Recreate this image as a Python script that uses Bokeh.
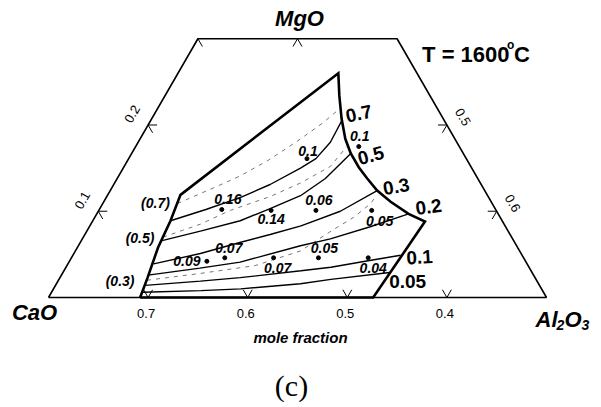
import math
from bokeh.plotting import figure
from bokeh.models import Range1d
from bokeh.core.properties import value
from bokeh.embed import file_html
from bokeh.resources import INLINE

# ---------------------------------------------------------------------------
# Data: compositions are (CaO, MgO) mole fractions; Al2O3 = 1 - CaO - MgO
# ---------------------------------------------------------------------------
# Triangle frame, cut at MgO = 0.3
frame_cao = [0.8, 0.3, 0.3, 0.5, 0.8]
frame_mgo = [0.0, 0.0, 0.3, 0.3, 0.0]

# Tick values
cao_ticks = [0.7, 0.6, 0.5, 0.4]      # bottom edge (MgO = 0)
mgo_ticks = [0.1, 0.2]                # left edge (Al2O3 = 0.2)
al2o3_ticks = [0.6, 0.5]              # right edge (CaO = 0.3)
top_cao_ticks = [0.5, 0.4]            # top edge (MgO = 0.3)

# Liquid region at 1600 C
liquid_cao = [0.708, 0.689, 0.661, 0.633, 0.608, 0.379, 0.391, 0.402, 0.410,
              0.413, 0.413, 0.411, 0.408, 0.401, 0.390, 0.378, 0.474, 0.708]
liquid_mgo = [0.000, 0.023, 0.058, 0.089, 0.119, 0.260, 0.234, 0.2075, 0.184,
              0.167, 0.151, 0.138, 0.124, 0.111, 0.097, 0.088, 0.000, 0.000]

# Calculated iso-activity lines (solid)
iso_levels = ["0.7", "0.5", "0.3", "0.2", "0.1", "0.05"]
iso_cao = [
    [0.633, 0.591, 0.549, 0.512, 0.472, 0.451, 0.427, 0.403],
    [0.653, 0.609, 0.563, 0.526, 0.488, 0.453, 0.413],
    [0.675, 0.622, 0.575, 0.541, 0.505, 0.457, 0.408],
    [0.687, 0.631, 0.587, 0.517, 0.483, 0.436, 0.390],
    [0.696, 0.638, 0.596, 0.531, 0.499, 0.461, 0.422],
    [0.702, 0.643, 0.602, 0.539, 0.506, 0.443],
]
iso_mgo = [
    [0.089, 0.102, 0.116, 0.131, 0.150, 0.161, 0.180, 0.205],
    [0.066, 0.077, 0.089, 0.103, 0.118, 0.138, 0.167],
    [0.039, 0.051, 0.064, 0.073, 0.083, 0.100, 0.124],
    [0.026, 0.034, 0.041, 0.060, 0.068, 0.082, 0.097],
    [0.014, 0.019, 0.023, 0.031, 0.035, 0.042, 0.049],
    [0.006, 0.008, 0.010, 0.016, 0.021, 0.029],
]

# Second model (dashed)
alt_levels = ["(0.7)", "(0.5)", "(0.3)"]
alt_cao = [
    [0.616, 0.566, 0.537, 0.500, 0.460, 0.424, 0.398],
    [0.650, 0.605, 0.567, 0.519, 0.480, 0.441, 0.413],
    [0.691, 0.633, 0.574, 0.520, 0.474, 0.447, 0.422, 0.412],
]
alt_mgo = [
    [0.109, 0.129, 0.141, 0.159, 0.181, 0.202, 0.219],
    [0.070, 0.085, 0.101, 0.117, 0.133, 0.152, 0.175],
    [0.020, 0.028, 0.037, 0.054, 0.079, 0.093, 0.109, 0.118],
]

# Measured points
pt_cao = [0.575, 0.526, 0.481, 0.460, 0.401, 0.425, 0.600, 0.620, 0.551, 0.506, 0.456]
pt_mgo = [0.102, 0.101, 0.101, 0.161, 0.175, 0.101, 0.046, 0.042, 0.046, 0.046, 0.046]
pt_val = ["0.16", "0.14", "0.06", "0.1", "0.1", "0.05", "0.07", "0.09", "0.07", "0.05", "0.04"]

# ---------------------------------------------------------------------------
# Layout / style
# ---------------------------------------------------------------------------
SQ3 = math.sqrt(3.0)
PX = 1.0 / 996.0            # data units per screen pixel
FONT = value("Liberation Sans")
SERIF = value("Liberation Serif")
TICK = 0.009                # tick arm length (mole fraction)

pt_dx = [6, 0, 3, 1, 1, 8, 4, -20, 4, 6, 5]
pt_dy = [-11, 9, -10, -8, -11, 11, -10, 0, 10, -10, 10]
iso_lab_dx = [17, 20, 19, 20, 19, 18]
iso_lab_dy = [-7, 2, -4, -7, 2, 9]
iso_lab_ang = [12, 15, 10, 8, 3, 0]
alt_lab_dx = [-22, -23, -27]
alt_lab_dy = [0, 1, 1]


def cart(cao, mgo):
    xs = [1.0 - c - m / 2.0 for c, m in zip(cao, mgo)]
    ys = [m * SQ3 / 2.0 for m in mgo]
    return xs, ys


def shift(x, y, dx, dy):
    """Move a data point by dx pixels right and dy pixels down."""
    return x + dx * PX, y - dy * PX


p = figure(width=601, height=407,
           x_range=Range1d(0.2 - 48 * PX, 0.2 + 553 * PX),
           y_range=Range1d(-110 * PX, 297 * PX),
           x_axis_type=None, y_axis_type=None,
           output_backend="svg", toolbar_location=None,
           min_border=0, outline_line_color=None,
           background_fill_color="white", border_fill_color="white")
for g in p.grid:
    g.visible = False

# Frame
fx, fy = cart(frame_cao, frame_mgo)
p.line(fx, fy, line_color="black", line_width=1.6)

# Tick marks: two short arms pointing inwards along the other iso-directions
tick_xs, tick_ys = [], []
for c in cao_ticks:
    x, y = cart([c - TICK, c, c], [TICK, 0.0, TICK])
    tick_xs.append(x); tick_ys.append(y)
for m in mgo_ticks:
    c = 0.8 - m
    x, y = cart([c - TICK, c, c], [m, m, m - TICK])
    tick_xs.append(x); tick_ys.append(y)
for a in al2o3_ticks:
    m = 0.7 - a
    x, y = cart([0.3 + TICK, 0.3, 0.3 + TICK], [m, m, m - TICK])
    tick_xs.append(x); tick_ys.append(y)
for c in top_cao_ticks:
    x, y = cart([c + TICK, c, c], [0.3 - TICK, 0.3, 0.3 - TICK])
    tick_xs.append(x); tick_ys.append(y)
p.multi_line(tick_xs, tick_ys, line_color="black", line_width=1.0)

# Dashed lines
for cs, ms in zip(alt_cao, alt_mgo):
    x, y = cart(cs, ms)
    p.line(x, y, line_color="#666666", line_width=0.9, line_dash="4 5")

# Solid iso-lines
for cs, ms in zip(iso_cao, iso_mgo):
    x, y = cart(cs, ms)
    p.line(x, y, line_color="black", line_width=1.4)

# Liquid region outline
lx, ly = cart(liquid_cao, liquid_mgo)
p.line(lx, ly, line_color="black", line_width=2.6, line_join="miter")

# Measured points and their values
px_, py_ = cart(pt_cao, pt_mgo)
p.scatter(px_, py_, size=4, color="black")
vx, vy = [], []
for x, y, dx, dy in zip(px_, py_, pt_dx, pt_dy):
    a, b = shift(x, y, dx, dy)
    vx.append(a); vy.append(b)
p.text(vx, vy, text=pt_val, text_font=FONT, text_font_style="bold italic",
       text_font_size="14px", text_align="center", text_baseline="middle")

# Level labels at the right end of the solid lines
lab_x, lab_y = [], []
for cs, ms, dx, dy in zip(iso_cao, iso_mgo, iso_lab_dx, iso_lab_dy):
    x, y = cart([cs[-1]], [ms[-1]])
    a, b = shift(x[0], y[0], dx, dy)
    lab_x.append(a); lab_y.append(b)
p.text(lab_x, lab_y, text=iso_levels, angle=[math.radians(d) for d in iso_lab_ang],
       text_font=FONT, text_font_style="bold", text_font_size="19px",
       text_align="center", text_baseline="middle")

# Level labels at the left end of the dashed lines
alab_x, alab_y = [], []
for cs, ms, dx, dy in zip(alt_cao, alt_mgo, alt_lab_dx, alt_lab_dy):
    x, y = cart([cs[0]], [ms[0]])
    a, b = shift(x[0], y[0], dx, dy)
    alab_x.append(a); alab_y.append(b)
p.text(alab_x, alab_y, text=alt_levels, text_font=FONT, text_font_style="bold italic",
       text_font_size="14px", text_align="center", text_baseline="middle")

# Tick labels
bx, by = cart(cao_ticks, [0.0] * len(cao_ticks))
bx, by = zip(*[shift(x, y, -2, 16) for x, y in zip(bx, by)])
p.text(list(bx), list(by), text=[f"{v:.1f}" for v in cao_ticks], text_font=FONT,
       text_font_size="13px", text_align="center", text_baseline="middle")

lx2, ly2 = cart([0.8 - m for m in mgo_ticks], mgo_ticks)
lx2, ly2 = zip(*[shift(x, y, -16, -11) for x, y in zip(lx2, ly2)])
p.text(list(lx2), list(ly2), text=[f"{v:.1f}" for v in mgo_ticks], angle=math.pi / 3,
       text_font=FONT, text_font_size="13px", text_align="center", text_baseline="middle")

rx, ry = cart([0.3] * len(al2o3_ticks), [0.7 - a for a in al2o3_ticks])
rx, ry = zip(*[shift(x, y, 16, -8) for x, y in zip(rx, ry)])
p.text(list(rx), list(ry), text=[f"{v:.1f}" for v in al2o3_ticks], angle=-math.pi / 3,
       text_font=FONT, text_font_size="13px", text_align="center", text_baseline="middle")

# Component names
top_x, top_y = cart([0.4], [0.3])
tx, ty = shift(top_x[0], top_y[0], 2, -20)
p.text([tx], [ty], text=["MgO"], text_font=FONT, text_font_style="bold italic",
       text_font_size="22px", text_align="center", text_baseline="middle")

cx, cy = shift(fx[0], fy[0], -14, 15)
p.text([cx], [cy], text=["CaO"], text_font=FONT, text_font_style="bold italic",
       text_font_size="22px", text_align="center", text_baseline="middle")

ax0, ay0 = shift(fx[1], fy[1], -11, 22)
parts = [("Al", 0, 0, "22px"), ("2", 21, 5, "14px"), ("O", 29, 0, "22px"), ("3", 46, 5, "14px")]
for s, dx, dy, fs in parts:
    a, b = shift(ax0, ay0, dx, dy)
    p.text([a], [b], text=[s], text_font=FONT, text_font_style="bold italic",
           text_font_size=fs, text_align="left", text_baseline="middle")

# Temperature
t0x, t0y = shift(fx[2], fy[2], 25, 16)
for s, dx, dy, fs in [("T = 1600", 0, 0, "22px"), ("o", 85, -10, "12px"), ("C", 92, 0, "22px")]:
    a, b = shift(t0x, t0y, dx, dy)
    p.text([a], [b], text=[s], text_font=FONT, text_font_style="bold",
           text_font_size=fs, text_align="left", text_baseline="middle")

# Axis caption and panel tag
base_x, base_y = cart([0.8], [0.0])
mx, my = shift(base_x[0], base_y[0], 252, 40)
p.text([mx], [my], text=["mole fraction"], text_font=FONT, text_font_style="bold italic",
       text_font_size="15px", text_align="center", text_baseline="middle")
qx, qy = shift(base_x[0], base_y[0], 243, 88)
p.text([qx], [qy], text=["(c)"], text_font=SERIF, text_font_size="30px",
       text_align="center", text_baseline="middle")

open("out.html", "w").write(file_html(p, INLINE))
